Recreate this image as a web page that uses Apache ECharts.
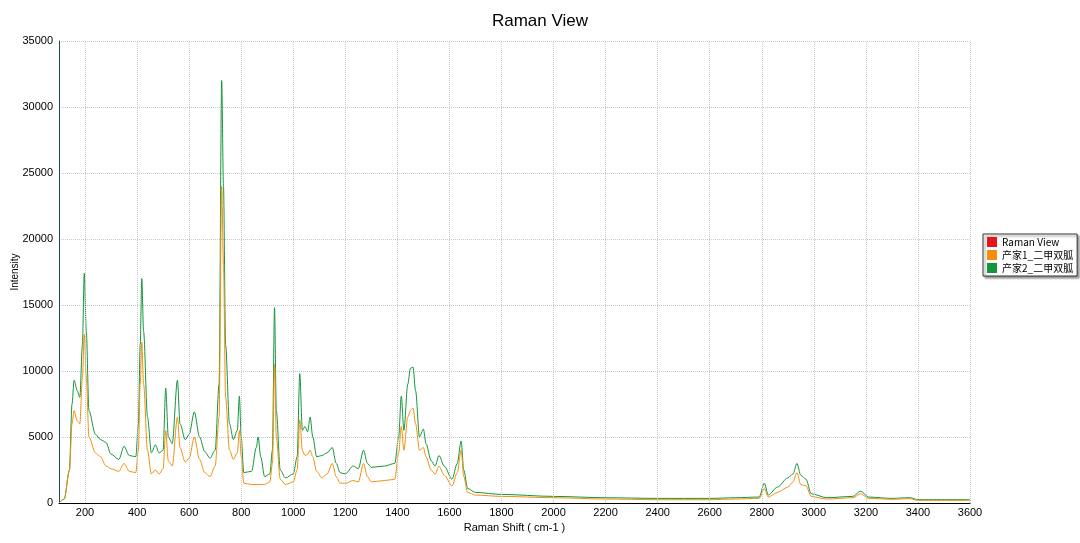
<!DOCTYPE html>
<html><head><meta charset="utf-8">
<script src="https://cdn.jsdelivr.net/npm/echarts@6/dist/echarts.min.js"></script>
<style>html,body{margin:0;padding:0;background:#fff}#c{width:1080px;height:543px}</style>
</head><body><div id="c"></div>
<script>
var shift = [100,120,140,150,158,170,180,190,197,205,215,240,260,280,300,330,350,370,395,405,412,418,425,440,455,470,485,500,510,520,535,555,565,585,600,620,640,660,680,700,715,725,732,740,755,770,785,793,800,810,840,858,865,875,890,910,920,928,935,950,970,1000,1015,1025,1035,1045,1055,1065,1075,1090,1110,1130,1150,1165,1180,1200,1230,1250,1270,1285,1300,1350,1390,1405,1415,1425,1440,1450,1460,1470,1485,1500,1510,1530,1545,1560,1580,1610,1630,1645,1655,1670,1700,1800,2000,2200,2400,2600,2700,2790,2810,2825,2860,2900,2920,2935,2950,2970,2990,3050,3150,3180,3210,3300,3370,3400,3600];
var s2 = [0,300,2500,7500,9300,8500,8000,12000,17400,13000,7000,5200,4800,4600,3700,3300,4300,3600,3500,6000,12000,17000,13000,6500,3800,4400,3800,4000,8700,5000,4500,9300,6000,4800,5200,6900,5000,3900,3400,4000,9000,32000,24000,12000,6000,4800,5500,8100,5000,2300,2400,4200,5000,3500,2000,2200,4000,14800,7000,2500,1900,2200,3500,9800,5500,5800,5400,6500,5000,3500,3600,3800,4200,3000,2300,2200,2800,2600,4000,3000,2700,2800,3000,5000,8100,5500,9000,10200,10300,8500,5000,5600,4500,3200,2800,3600,2800,1800,3000,4700,2500,1100,800,650,500,400,350,350,400,450,1500,600,1200,1900,2200,3000,2100,1800,700,400,500,900,450,350,400,250,250];
var s1 = [0,300,2400,6000,7000,6200,6000,9500,12800,9500,5000,3800,3500,2800,2600,2400,3000,2400,2300,4000,9000,12200,9000,4000,2200,2500,2200,2600,5500,3200,2800,6500,4200,3100,3400,5000,3300,2300,2000,2800,6500,24000,18000,8000,4000,3300,3800,5500,3500,1500,1400,1400,1400,1400,1400,1600,3000,10500,5000,1800,1400,1600,2500,6300,4000,3600,3700,4000,3500,2400,1900,2200,3000,2000,1500,1500,1700,1600,3000,2000,1600,1700,1800,3800,5800,4000,6500,7000,7200,6000,4000,4200,3500,2500,2200,2800,2100,1300,2300,4000,2000,800,600,500,400,300,250,250,300,350,1100,450,800,1200,1600,2300,1400,1300,500,300,400,700,350,280,330,200,200];
var xTicks = [200,400,600,800,1000,1200,1400,1600,1800,2000,2200,2400,2600,2800,3000,3200,3400,3600];
var names = ['Raman View', '产家1_二甲双胍', '产家2_二甲双胍'];
var colors = ['#e8141c', '#f0900f', '#16963c'];

function pairs(ys) { return shift.map(function (x, i) { return [x, ys[i]]; }); }

var chart = echarts.init(document.getElementById('c'));
chart.setOption({
  animation: false,
  color: colors,
  title: { text: 'Raman View', left: 'center', top: 8, textStyle: { fontSize: 17, fontWeight: 'normal', color: '#000', fontFamily: 'Liberation Sans' } },
  legend: {
    orient: 'vertical', left: 983, top: 234, itemWidth: 10, itemHeight: 10, itemGap: 3,
    icon: 'rect', borderColor: '#333', borderWidth: 1, padding: [3, 4],
    backgroundColor: '#fff', shadowColor: 'rgba(0,0,0,0.4)', shadowOffsetX: 2, shadowOffsetY: 2, shadowBlur: 2,
    textStyle: { fontSize: 10, color: '#000', fontFamily: 'Noto Sans CJK SC' },
    formatter: function (n) { return n.charAt(0) === 'R' ? n : n.slice(0, 8); },
    data: names
  },
  grid: { left: 59, right: 110, top: 41, bottom: 40, outerBoundsMode: 'none' },
  xAxis: {
    type: 'value', min: 100, max: 3600, interval: 100,
    name: 'Raman Shift ( cm-1 )', nameLocation: 'middle', nameGap: 19, nameMoveOverlap: false,
    nameTextStyle: { fontSize: 11, color: '#000' },
    axisLine: { lineStyle: { color: '#000' } },
    axisTick: { show: false },
    axisLabel: { fontSize: 11, color: '#000', margin: 4, formatter: function (v) { return v % 200 === 0 ? String(v) : ''; } },
    splitLine: { show: false }
  },
  yAxis: {
    type: 'value', min: 0, max: 35000, interval: 5000,
    name: 'Intensity', nameLocation: 'middle', nameGap: 39, nameMoveOverlap: false,
    nameTextStyle: { fontSize: 10, color: '#000' },
    axisLine: { show: true, lineStyle: { color: '#1b4a5a' } },
    axisTick: { show: false },
    axisLabel: { fontSize: 11, color: '#000', margin: 6, formatter: function (v) { return String(v); } },
    splitLine: { lineStyle: { color: '#c8c8c8', type: 'dotted' } }
  },
  series: [
    {
      name: names[0], type: 'line', data: [], symbol: 'none',
      markLine: {
        silent: true, symbol: 'none', label: { show: false },
        lineStyle: { color: '#c8c8c8', type: 'dotted', width: 1 },
        data: xTicks.map(function (v) { return { xAxis: v }; })
      }
    },
    { name: names[1], type: 'line', data: pairs(s1), symbol: 'none', smooth: 0.3, smoothMonotone: 'x', lineStyle: { width: 1 }, z: 3 },
    { name: names[2], type: 'line', data: pairs(s2), symbol: 'none', smooth: 0.3, smoothMonotone: 'x', lineStyle: { width: 1 }, z: 2 }
  ]
});
</script></body></html>
